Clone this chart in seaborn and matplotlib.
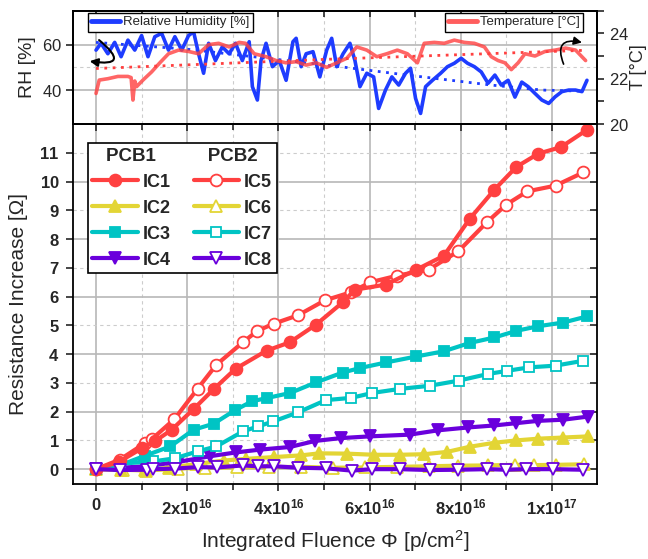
import numpy as np
import pandas as pd
import matplotlib
matplotlib.use("Agg")
import matplotlib.pyplot as plt
import seaborn as sns
from matplotlib.ticker import FuncFormatter, NullFormatter, FixedLocator
from matplotlib.lines import Line2D

# ------------------ STYLE ------------------
sns.set_style("ticks")
plt.rcParams["font.family"] = ["Liberation Sans", "DejaVu Sans"]
plt.rcParams["mathtext.fontset"] = "custom"
plt.rcParams["mathtext.rm"] = "Liberation Sans"
plt.rcParams["mathtext.it"] = "Liberation Sans:italic"
plt.rcParams["mathtext.bf"] = "Liberation Sans:bold"

RED = "#FF4040"
YELLOW = "#E3D535"
TEAL = "#00C4C4"
PURPLE = "#6A00DC"
BLUE = "#1E3CFF"
GRID_SOLID = "#b8b8b8"
GRID_DASH = "#cccccc"
E16 = 1e16

# ------------------ DATA (fluence in 1e16 p/cm^2) ------------------
# top panel: relative humidity [%]
rh_x = [0.00, 0.11, 0.26, 0.41, 0.55, 0.70, 0.85, 1.00, 1.14, 1.29, 1.44, 1.59, 1.73, 1.88,
        2.03, 2.14, 2.25, 2.36, 2.47, 2.62, 2.77, 2.92, 3.06, 3.21, 3.36, 3.43, 3.54, 3.62,
        3.73, 3.87, 4.02, 4.17, 4.32, 4.39, 4.50, 4.61, 4.76, 4.91, 5.06, 5.17, 5.28, 5.42,
        5.57, 5.68, 5.79, 5.94, 6.09, 6.20, 6.35, 6.49, 6.64, 6.79, 6.90, 7.01, 7.12, 7.23,
        7.38, 7.56, 7.71, 7.86, 8.01, 8.15, 8.30, 8.45, 8.60, 8.75, 8.89, 9.04, 9.19, 9.34,
        9.48, 9.63, 9.78, 9.93, 10.07, 10.22, 10.37, 10.52, 10.66, 10.77]
rh_val = [57.6, 60.6, 56.0, 61.0, 54.7, 62.0, 57.6, 64.0, 54.7, 63.5, 65.0, 57.6, 63.5, 57.6,
          64.0, 65.7, 56.0, 47.4, 60.6, 53.0, 59.0, 56.0, 60.6, 53.0, 61.3, 41.5, 35.6, 53.0,
          60.6, 50.3, 53.0, 44.3, 61.3, 62.8, 50.3, 56.0, 56.9, 45.8, 57.6, 62.8, 50.3, 56.0,
          60.6, 53.0, 41.5, 47.4, 45.8, 31.9, 40.0, 45.8, 42.2, 47.4, 49.6, 36.3, 29.7, 41.5,
          44.3, 47.4, 50.3, 51.8, 54.0, 51.8, 50.3, 48.0, 43.0, 46.6, 42.2, 44.3, 36.9, 43.5,
          41.5, 38.5, 35.6, 34.1, 37.0, 39.3, 40.0, 40.0, 39.3, 44.3]
rh_fit_x = [0.0, 2.0, 3.14, 5.35, 6.83, 8.67, 9.78, 10.7]
rh_fit = [61.0, 58.0, 55.4, 50.3, 46.6, 42.2, 40.0, 39.5]

# top panel: temperature [°C]
t_x = [0.00, 0.07, 0.26, 0.48, 0.70, 0.77, 0.81, 0.85, 0.89, 1.03, 1.22, 1.40, 1.59, 1.81,
       2.03, 2.25, 2.47, 2.69, 2.92, 3.14, 3.28, 3.47, 3.73, 3.95, 4.17, 4.39, 4.61, 4.83,
       5.06, 5.28, 5.50, 5.72, 5.94, 6.16, 6.38, 6.61, 6.83, 7.05, 7.20, 7.42, 7.64, 7.86,
       8.08, 8.30, 8.52, 8.67, 8.82, 8.97, 9.11, 9.26, 9.41, 9.63, 9.85, 10.07, 10.30, 10.52,
       10.74]
t_val = [21.35, 21.94, 22.0, 22.1, 22.1, 22.05, 21.06, 21.9, 21.65, 21.94, 22.3, 22.7, 23.1,
         23.26, 23.2, 23.1, 23.5, 23.56, 23.4, 23.6, 23.56, 23.1, 22.97, 22.8, 22.7, 22.75,
         22.6, 22.7, 22.5, 22.7, 22.9, 23.4, 23.26, 22.97, 23.1, 23.26, 23.1, 22.7, 23.56,
         23.6, 23.56, 23.7, 23.6, 23.56, 23.4, 22.97, 22.8, 22.7, 22.4, 22.7, 23.1, 23.0,
         23.2, 23.26, 23.35, 23.26, 22.8]
t_fit_x = [0.0, 5.0, 10.7]
t_fit = [22.45, 22.85, 23.25]

# main panel: resistance increase [Ohm]
ic1_x = [0, 0.5, 1.0, 1.3, 1.66, 2.14, 2.58, 3.06, 3.74, 4.25, 4.83, 5.41, 5.68, 6.36, 7.03,
         7.63, 8.20, 8.74, 9.22, 9.70, 10.2, 10.77]
ic1_y = [0, 0.25, 0.72, 0.98, 1.37, 2.09, 2.78, 3.49, 4.12, 4.41, 5.03, 5.80, 6.24, 6.42, 6.94,
         7.42, 8.71, 9.72, 10.51, 10.97, 11.2, 11.8]
ic2_x = [0, 0.55, 1.08, 1.6, 2.2, 2.8, 3.3, 3.9, 4.5, 4.9, 5.5, 6.1, 6.66, 7.2, 7.7, 8.2, 8.75,
         9.22, 9.7, 10.25, 10.8]
ic2_y = [0, -0.02, -0.03, 0.05, 0.18, 0.30, 0.36, 0.42, 0.48, 0.55, 0.54, 0.50, 0.50, 0.52,
         0.60, 0.78, 0.92, 1.00, 1.06, 1.10, 1.14]
ic3_x = [0, 0.5, 1.08, 1.63, 2.14, 2.58, 3.05, 3.42, 3.74, 4.26, 4.83, 5.41, 5.80, 6.36, 7.03,
         7.63, 8.20, 8.74, 9.22, 9.70, 10.25, 10.77]
ic3_y = [0, 0.12, 0.47, 0.79, 1.37, 1.58, 2.05, 2.36, 2.47, 2.65, 3.02, 3.36, 3.52, 3.71, 3.92,
         4.10, 4.39, 4.58, 4.81, 4.97, 5.10, 5.31]
ic4_x = [0, 0.55, 1.08, 1.8, 2.5, 3.06, 3.6, 4.25, 4.8, 5.37, 6.0, 6.88, 7.5, 8.16, 8.74, 9.22,
         9.70, 10.25, 10.8]
ic4_y = [0, 0.05, 0.10, 0.25, 0.45, 0.58, 0.68, 0.77, 0.98, 1.08, 1.14, 1.20, 1.35, 1.45, 1.52,
         1.60, 1.68, 1.72, 1.83]
ic5_x = [0, 0.52, 1.07, 1.23, 1.72, 2.23, 2.64, 3.22, 3.54, 3.90, 4.43, 5.02, 5.59, 6.02, 6.61,
         7.30, 7.95, 8.57, 9.00, 9.46, 10.08, 10.69]
ic5_y = [0, 0.33, 0.90, 1.05, 1.74, 2.80, 3.63, 4.41, 4.81, 5.06, 5.35, 5.87, 6.15, 6.50, 6.73,
         6.94, 7.58, 8.58, 9.20, 9.66, 9.86, 10.32]
ic6_x = [0, 0.6, 1.1, 1.8, 2.4, 3.1, 3.8, 4.5, 5.2, 5.9, 6.6, 7.3, 7.95, 8.6, 9.2, 9.6, 10.1,
         10.7]
ic6_y = [0, -0.02, -0.05, 0.02, 0.05, 0.06, 0.07, 0.08, 0.05, 0.06, 0.08, 0.10, 0.12, 0.13,
         0.15, 0.14, 0.15, 0.17]
ic7_x = [0, 0.52, 1.26, 1.74, 2.23, 2.64, 3.22, 3.56, 3.89, 4.44, 5.04, 5.60, 6.06, 6.66, 7.32,
         7.96, 8.60, 9.02, 9.50, 10.08, 10.69]
ic7_y = [0, 0.19, 0.27, 0.38, 0.62, 0.79, 1.31, 1.49, 1.66, 1.98, 2.40, 2.48, 2.65, 2.79, 2.90,
         3.08, 3.31, 3.42, 3.54, 3.60, 3.77]
ic8_x = [0, 0.52, 1.12, 1.26, 1.74, 2.23, 2.65, 3.23, 3.56, 3.91, 4.44, 5.04, 5.61, 6.06, 6.66,
         7.32, 7.95, 8.58, 9.0, 9.44, 10.02, 10.68]
ic8_y = [0, -0.03, -0.02, 0.0, 0.02, 0.07, 0.06, 0.13, 0.10, 0.10, 0.05, 0.03, -0.05, 0.0, 0.0,
         -0.03, -0.02, 0.0, -0.02, 0.0, 0.0, -0.02]

# name, x, y, color, marker, filled, size
SERIES = [
    ("IC6", ic6_x, ic6_y, YELLOW, "^", False, 8.5),
    ("IC2", ic2_x, ic2_y, YELLOW, "^", True, 8.5),
    ("IC4", ic4_x, ic4_y, PURPLE, "v", True, 8.5),
    ("IC7", ic7_x, ic7_y, TEAL, "s", False, 7),
    ("IC3", ic3_x, ic3_y, TEAL, "s", True, 7),
    ("IC5", ic5_x, ic5_y, RED, "o", False, 8.5),
    ("IC1", ic1_x, ic1_y, RED, "o", True, 8.5),
    ("IC8", ic8_x, ic8_y, PURPLE, "v", False, 8.5),
]

X_MAJOR = [0, 2 * E16, 4 * E16, 6 * E16, 8 * E16, 10 * E16]
X_MINOR = [1 * E16, 3 * E16, 5 * E16, 7 * E16, 9 * E16]


def sci_label(v, pos):
    if abs(v) < 1:
        return r"$\mathbf{0}$"
    exp = int(np.floor(np.log10(v) + 1e-9))
    mant = v / 10 ** exp
    return r"$\mathbf{%gx10^{%d}}$" % (mant, exp)


def style_grid(ax):
    ax.grid(which="major", color=GRID_SOLID, lw=1.2, ls="-")
    ax.grid(which="minor", color=GRID_DASH, lw=0.8, ls=(0, (3, 3)))
    ax.set_axisbelow(True)


# ------------------ FIGURE ------------------
fig = plt.figure(figsize=(6.48, 5.59), dpi=100)
ax = fig.add_axes([0.113, 0.135, 0.809, 0.643])
ax_top = fig.add_axes([0.113, 0.778, 0.809, 0.203])
ax_t = ax_top.twinx()

xlim = (-0.5 * E16, 11.0 * E16)

# ---- main panel ----
for name, xs, ys, col, mk, filled, ms in SERIES:
    df = pd.DataFrame({"fluence": np.array(xs) * E16, "dR": ys})
    sns.lineplot(data=df, x="fluence", y="dR", ax=ax, color=col, lw=3,
                 marker=mk, markersize=ms, markeredgewidth=1.3,
                 markerfacecolor=col if filled else "white", markeredgecolor=col,
                 estimator=None, sort=False, label=name)

ax.set_xlim(*xlim)
ax.set_ylim(-0.5, 12)
ax.xaxis.set_major_locator(FixedLocator(X_MAJOR))
ax.xaxis.set_minor_locator(FixedLocator(X_MINOR))
ax.xaxis.set_major_formatter(FuncFormatter(sci_label))
ax.xaxis.set_minor_formatter(NullFormatter())
ax.yaxis.set_major_locator(FixedLocator([0, 2, 4, 6, 8, 10]))
ax.yaxis.set_minor_locator(FixedLocator([1, 3, 5, 7, 9, 11]))
ax.yaxis.set_major_formatter(FuncFormatter(lambda v, p: r"$\mathbf{%d}$" % v))
ax.yaxis.set_minor_formatter(FuncFormatter(lambda v, p: r"$\mathbf{%d}$" % v))
style_grid(ax)

ax.tick_params(axis="y", which="both", direction="out", length=5, width=1.2,
               labelsize=12, pad=5, left=True, right=True)
ax.tick_params(axis="x", which="major", direction="out", length=5, width=1.2, labelsize=12, pad=5)
ax.tick_params(axis="x", which="minor", direction="out", length=4, width=1.2)
ax.tick_params(axis="x", which="both", top=True)
for sp in ax.spines.values():
    sp.set_linewidth(1.3)
    sp.set_color("black")
# inward ticks on the right / top
for t in ax.yaxis.get_major_ticks() + ax.yaxis.get_minor_ticks():
    t.tick2line.set_marker(matplotlib.lines.TICKLEFT)
for t in ax.xaxis.get_major_ticks() + ax.xaxis.get_minor_ticks():
    t.tick2line.set_marker(matplotlib.lines.TICKDOWN)

ax.set_xlabel(r"Integrated Fluence $\Phi$ [p/cm$^2$]", fontsize=15, labelpad=8)
ax.set_ylabel("Resistance Increase [Ω]", fontsize=15, labelpad=8)

# legend: PCB1 column (IC1-IC4), PCB2 column (IC5-IC8)
h, l = ax.get_legend_handles_labels()
hmap = dict(zip(l, h))
order = ["IC1", "IC2", "IC3", "IC4", "IC5", "IC6", "IC7", "IC8"]
leg = ax.legend([hmap[k] for k in order], order, ncol=2, loc="upper left",
                bbox_to_anchor=(0.028, 0.947), borderaxespad=0,
                prop={"weight": "bold", "size": 13}, handlelength=2.5,
                handletextpad=0.3, columnspacing=1.25, labelspacing=0.5, borderpad=0.25,
                frameon=True, fancybox=False, framealpha=1, edgecolor="black",
                title="PCB1" + "\u2007" * 5 + "PCB2",
                title_fontproperties={"weight": "bold", "size": 13.5})
leg.get_frame().set_linewidth(1.2)

# ---- top panel ----
rh_df = pd.DataFrame({"fluence": np.array(rh_x) * E16, "RH": rh_val})
rh_fit_df = pd.DataFrame({"fluence": np.array(rh_fit_x) * E16, "RH": rh_fit})
t_df = pd.DataFrame({"fluence": np.array(t_x) * E16, "T": t_val})
t_fit_df = pd.DataFrame({"fluence": np.array(t_fit_x) * E16, "T": t_fit})

sns.lineplot(data=rh_fit_df, x="fluence", y="RH", ax=ax_top, color=BLUE, lw=2,
             ls=(0, (1, 2)), estimator=None, sort=False)
sns.lineplot(data=rh_df, x="fluence", y="RH", ax=ax_top, color=BLUE, lw=2.6,
             estimator=None, sort=False)
sns.lineplot(data=t_fit_df, x="fluence", y="T", ax=ax_t, color=RED, lw=2,
             ls=(0, (1, 2)), estimator=None, sort=False)
sns.lineplot(data=t_df, x="fluence", y="T", ax=ax_t, color=RED, lw=2.6, alpha=0.8,
             estimator=None, sort=False)

ax_top.set_xlim(*xlim)
ax_top.set_ylim(25, 75)
ax_t.set_ylim(20, 25)
ax_top.xaxis.set_major_locator(FixedLocator(X_MAJOR))
ax_top.xaxis.set_minor_locator(FixedLocator(X_MINOR))
ax_top.yaxis.set_major_locator(FixedLocator([40, 60]))
ax_top.yaxis.set_minor_locator(FixedLocator([50]))
ax_t.yaxis.set_major_locator(FixedLocator([20, 22, 24]))
ax_t.yaxis.set_minor_locator(FixedLocator([21, 23, 25]))
ax_top.yaxis.set_major_formatter(FuncFormatter(lambda v, p: r"$\mathit{%d}$" % v))
ax_t.yaxis.set_major_formatter(FuncFormatter(lambda v, p: r"$\mathit{%d}$" % v))
style_grid(ax_top)
ax_top.tick_params(axis="x", which="both", bottom=False, top=True, direction="in",
                   length=4, width=1.2, labelbottom=False)
ax_top.tick_params(axis="y", which="major", direction="out", length=5, width=1.2, labelsize=12)
ax_top.tick_params(axis="y", which="minor", length=0)
ax_t.tick_params(axis="y", which="both", direction="out", length=5, width=1.2, labelsize=12,
                 pad=3)
ax_top.set_xlabel("")
ax_top.set_ylabel("RH [%]", fontsize=14, labelpad=4)
ax_t.set_ylabel("T [°C]", fontsize=13, labelpad=1)
for a in (ax_top, ax_t):
    for sp in a.spines.values():
        sp.set_linewidth(1.3)
        sp.set_color("black")

leg_kw = dict(prop={"size": 9.5}, handlelength=2.2, handletextpad=0.2, borderpad=0.25,
              frameon=True, fancybox=False, framealpha=1, edgecolor="black", borderaxespad=0)
leg_rh = ax_t.legend([Line2D([], [], color=BLUE, lw=3.5)], ["Relative Humidity [%]"],
                     loc="upper left", bbox_to_anchor=(0.028, 0.98), **leg_kw)
leg_rh.get_frame().set_linewidth(1.0)
ax_t.add_artist(leg_rh)
leg_t = ax_t.legend([Line2D([], [], color=RED, lw=3.5, alpha=0.85)], ["Temperature [°C]"],
                    loc="upper right", bbox_to_anchor=(0.972, 0.98), **leg_kw)
leg_t.get_frame().set_linewidth(1.0)

# curved arrows pointing to each axis
ax_top.annotate("", xy=(-0.2 * E16, 52.9), xytext=(0.02 * E16, 62.8),
                arrowprops=dict(arrowstyle="-|>", color="black", lw=1.5,
                                connectionstyle="arc3,rad=-1.9", mutation_scale=12))
ax_t.annotate("", xy=(10.72 * E16, 23.57), xytext=(10.28 * E16, 22.53),
              arrowprops=dict(arrowstyle="-|>", color="black", lw=1.2,
                              connectionstyle="arc3,rad=-1.0", mutation_scale=12))

fig.savefig("out.png", dpi=100)
